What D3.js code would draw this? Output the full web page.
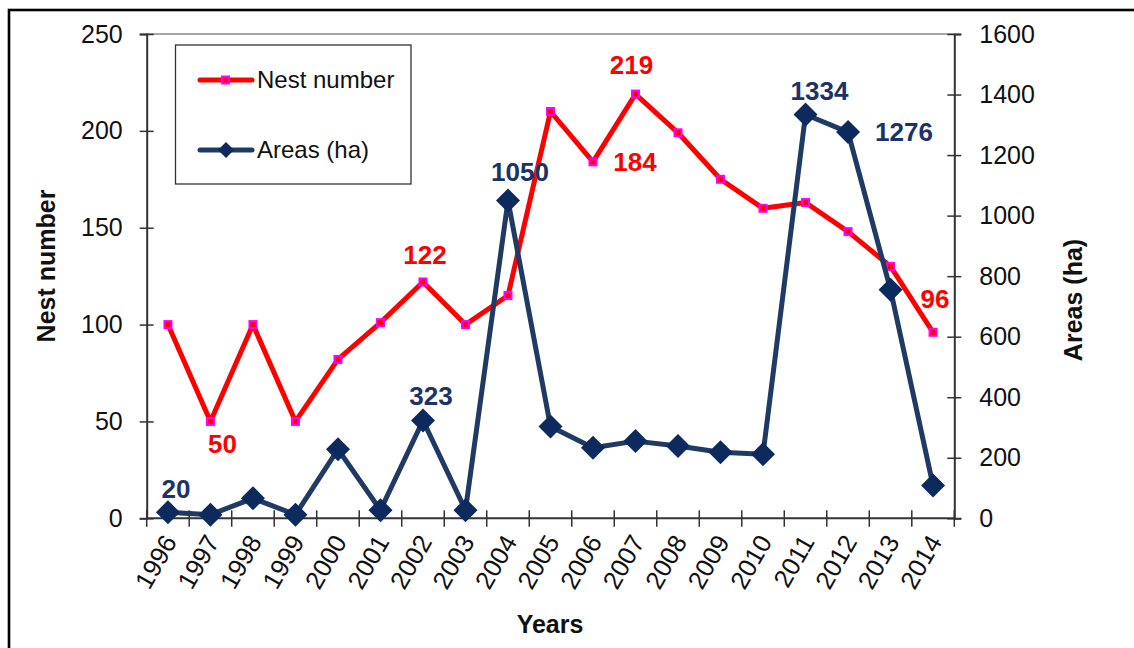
<!DOCTYPE html>
<html>
<head>
<meta charset="utf-8">
<script src="https://cdn.jsdelivr.net/npm/d3@7"></script>
<style>
  html, body { margin: 0; padding: 0; background: #fff; }
  svg { display: block; font-family: "Liberation Sans", Arial, sans-serif; }
</style>
</head>
<body>
<svg id="chart" width="1134" height="648"></svg>
<script>
// Nest counts and nesting areas, 1996–2014
const years = ["1996","1997","1998","1999","2000","2001","2002","2003","2004","2005",
               "2006","2007","2008","2009","2010","2011","2012","2013","2014"];
const nestNumber = [100, 50, 100, 50, 82, 101, 122, 100, 115, 210,
                    184, 219, 199, 175, 160, 163, 148, 130, 96];
const areasHa = [20, 12, 66, 12, 228, 27, 323, 27, 1050, 303,
                 233, 255, 239, 218, 212, 1334, 1276, 755, 108];
const leftTicks = [0, 50, 100, 150, 200, 250];
const rightTicks = [0, 200, 400, 600, 800, 1000, 1200, 1400, 1600];

// Which points carry a value label, and where the label sits relative to the point
const nestLabels = [
  { year: "1997", dx: 12, dy: 22 },
  { year: "2002", dx: 2, dy: -27 },
  { year: "2006", dx: 42, dy: 0 },
  { year: "2007", dx: -4, dy: -29 },
  { year: "2014", dx: 2, dy: -33 }
];
const areaLabels = [
  { year: "1996", dx: 8, dy: -23 },
  { year: "2002", dx: 8, dy: -25 },
  { year: "2004", dx: 12, dy: -29 },
  { year: "2011", dx: 14, dy: -24 },
  { year: "2012", dx: 56, dy: 0 }
];

const RED = "#ff0000", MAGENTA = "#ff00ff";
const NAVY_LINE = "#1f3a63", NAVY_MARK = "#0c2a5e", NAVY_TEXT = "#1b3366";
const AXIS = "#333";

const svg = d3.select("#chart");
const plot = { left: 146.7, right: 954.3, top: 34, bottom: 518.3 };

const x = d3.scaleBand().domain(years).range([plot.left, plot.right]).padding(0);
const yL = d3.scaleLinear().domain([0, 250]).range([plot.bottom, plot.top]);
const yR = d3.scaleLinear().domain([0, 1600]).range([plot.bottom, plot.top]);
const cx = d => x(d) + x.bandwidth() / 2;

// outer frame (runs past the right and bottom edges)
svg.append("rect")
  .attr("x", 9).attr("y", 10).attr("width", 1300).attr("height", 800)
  .attr("fill", "none").attr("stroke", "#000").attr("stroke-width", 2.6);

// top border of the plot area
svg.append("line")
  .attr("x1", plot.left).attr("x2", plot.right)
  .attr("y1", plot.top).attr("y2", plot.top)
  .attr("stroke", "#888").attr("stroke-width", 1.3);

// left axis
const gL = svg.append("g")
  .attr("transform", `translate(${plot.left},0)`)
  .call(d3.axisLeft(yL).tickValues(leftTicks).tickFormat(d3.format("d"))
    .tickSize(7).tickPadding(17));
gL.selectAll(".tick line").attr("x1", 7);

// right axis
const gR = svg.append("g")
  .attr("transform", `translate(${plot.right},0)`)
  .call(d3.axisRight(yR).tickValues(rightTicks).tickFormat(d3.format("d"))
    .tickSize(7).tickPadding(18));
gR.selectAll(".tick line").attr("x1", -7);

[gL, gR].forEach(g => {
  g.select(".domain").attr("stroke", AXIS).attr("stroke-width", 2);
  g.selectAll(".tick line").attr("stroke", AXIS).attr("stroke-width", 1.5);
  g.selectAll(".tick text")
    .attr("font-size", 25).attr("fill", "#111")
    .attr("font-family", "'Liberation Sans', Arial, sans-serif");
});

// bottom axis: line, boundary ticks, rotated year labels
const gX = svg.append("g");
gX.append("line")
  .attr("x1", plot.left).attr("x2", plot.right)
  .attr("y1", plot.bottom).attr("y2", plot.bottom)
  .attr("stroke", AXIS).attr("stroke-width", 2);
const bounds = years.map(d => x(d)).concat([x.range()[1]]);
gX.selectAll("line.bt").data(bounds).join("line")
  .attr("class", "bt")
  .attr("x1", d => d).attr("x2", d => d)
  .attr("y1", plot.bottom - 8).attr("y2", plot.bottom + 8.5)
  .attr("stroke", AXIS).attr("stroke-width", 1.5);
gX.selectAll("text").data(years).join("text")
  .attr("transform", d => `translate(${cx(d) + 2},${plot.bottom + 19}) rotate(-60)`)
  .attr("text-anchor", "end")
  .attr("dy", "0.35em")
  .attr("font-size", 25.5).attr("fill", "#111")
  .text(d => d);

// axis titles
svg.append("text")
  .attr("transform", "translate(46,266) rotate(-90)")
  .attr("text-anchor", "middle").attr("dy", "0.35em")
  .attr("font-size", 25).attr("font-weight", "bold").attr("fill", "#111")
  .text("Nest number");
svg.append("text")
  .attr("transform", "translate(1073,300) rotate(-90)")
  .attr("text-anchor", "middle").attr("dy", "0.35em")
  .attr("font-size", 25).attr("font-weight", "bold").attr("fill", "#111")
  .text("Areas (ha)");
svg.append("text")
  .attr("x", 550).attr("y", 624)
  .attr("text-anchor", "middle").attr("dy", "0.35em")
  .attr("font-size", 25).attr("font-weight", "bold").attr("fill", "#111")
  .text("Years");

// nest number series
const nestData = years.map((d, i) => ({ year: d, v: nestNumber[i] }));
svg.append("path")
  .datum(nestData)
  .attr("fill", "none").attr("stroke", RED).attr("stroke-width", 5)
  .attr("stroke-linejoin", "round")
  .attr("d", d3.line().x(d => cx(d.year)).y(d => yL(d.v)));
svg.selectAll("rect.nm").data(nestData).join("rect")
  .attr("class", "nm")
  .attr("x", d => cx(d.year) - 3.5).attr("y", d => yL(d.v) - 3.5)
  .attr("width", 7).attr("height", 7)
  .attr("fill", RED).attr("stroke", MAGENTA).attr("stroke-width", 2);

// areas series
const areaData = years.map((d, i) => ({ year: d, v: areasHa[i] }));
svg.append("path")
  .datum(areaData)
  .attr("fill", "none").attr("stroke", NAVY_LINE).attr("stroke-width", 5)
  .attr("stroke-linejoin", "round")
  .attr("d", d3.line().x(d => cx(d.year)).y(d => yR(d.v)));
const diamond = r => `M0,${-r}L${r},0L0,${r}L${-r},0Z`;
svg.selectAll("path.am").data(areaData).join("path")
  .attr("class", "am")
  .attr("transform", d => `translate(${cx(d.year)},${yR(d.v)})`)
  .attr("d", diamond(12))
  .attr("fill", NAVY_MARK);

// value labels
const byYearNest = new Map(nestData.map(d => [d.year, d.v]));
const byYearArea = new Map(areaData.map(d => [d.year, d.v]));
svg.selectAll("text.nl").data(nestLabels).join("text")
  .attr("class", "nl")
  .attr("x", d => cx(d.year) + d.dx)
  .attr("y", d => yL(byYearNest.get(d.year)) + d.dy)
  .attr("text-anchor", "middle").attr("dy", "0.35em")
  .attr("font-size", 26).attr("font-weight", "bold").attr("fill", RED)
  .text(d => byYearNest.get(d.year));
svg.selectAll("text.al").data(areaLabels).join("text")
  .attr("class", "al")
  .attr("x", d => cx(d.year) + d.dx)
  .attr("y", d => yR(byYearArea.get(d.year)) + d.dy)
  .attr("text-anchor", "middle").attr("dy", "0.35em")
  .attr("font-size", 26).attr("font-weight", "bold").attr("fill", NAVY_TEXT)
  .text(d => byYearArea.get(d.year));

// legend
const lg = svg.append("g");
lg.append("rect")
  .attr("x", 175.5).attr("y", 45).attr("width", 235.5).attr("height", 139)
  .attr("fill", "#fff").attr("stroke", "#333").attr("stroke-width", 1.3);
const legendItems = [
  { name: "Nest number", y: 80, color: RED, kind: "square" },
  { name: "Areas (ha)", y: 150, color: NAVY_LINE, kind: "diamond" }
];
legendItems.forEach(it => {
  lg.append("line")
    .attr("x1", 200).attr("x2", 252).attr("y1", it.y).attr("y2", it.y)
    .attr("stroke", it.color).attr("stroke-width", 5).attr("stroke-linecap", "round");
  if (it.kind === "square") {
    lg.append("rect").attr("x", 222).attr("y", it.y - 3.5).attr("width", 7).attr("height", 7)
      .attr("fill", RED).attr("stroke", MAGENTA).attr("stroke-width", 2);
  } else {
    lg.append("path").attr("transform", `translate(226,${it.y})`).attr("d", diamond(8))
      .attr("fill", NAVY_MARK);
  }
  lg.append("text")
    .attr("x", 257).attr("y", it.y).attr("dy", "0.35em")
    .attr("font-size", 24).attr("fill", "#111")
    .text(it.name);
});
</script>
</body>
</html>
